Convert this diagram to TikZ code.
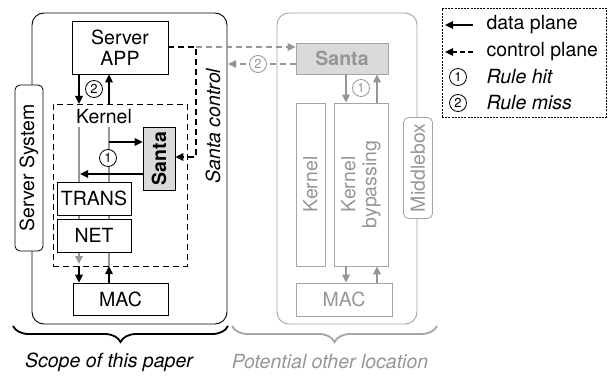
\documentclass[tikz,border=0pt]{standalone}
\usepackage{fontspec}
\setmainfont{TeX Gyre Heros}
\usetikzlibrary{arrows.meta,decorations.pathreplacing}
\definecolor{lg}{RGB}{150,150,150}
\definecolor{lgb}{RGB}{165,165,165}
\definecolor{sfill}{RGB}{218,218,218}
\begin{document}
\begin{tikzpicture}[x=1pt,y=-1pt,
  every node/.style={font=\fontsize{19.5}{21}\selectfont},
  box/.style={draw, line width=0.8pt, fill=white, inner sep=0pt, align=center},
  gbox/.style={box, draw=lgb, text=lg},
  outer/.style={draw, line width=0.9pt, rounded corners=12pt},
  tag/.style={box, rounded corners=5pt},
  circ/.style={draw, circle, fill=white, inner sep=0pt, minimum size=17pt, line width=0.8pt, font=\fontsize{13}{13}\selectfont},
  darr/.style={line width=1.6pt, -{Triangle[length=8pt,width=7.5pt]}},
  carr/.style={line width=1.6pt, dash pattern=on 6pt off 4pt, -{Triangle[length=8pt,width=7.5pt]}},
  gline/.style={line width=1.4pt, lg},
  brc/.style={line width=1.8pt, decorate, decoration={brace, mirror, amplitude=16pt}},
]
\useasboundingbox (0,0) rectangle (612,377);

% ---------------- left: server system ----------------
\node[outer, minimum width=195pt, minimum height=311pt] (sys) at (129.5,168.5) {};
\node[tag, rotate=90, minimum width=166pt, minimum height=28pt] (syslabel) at (29,168) {Server System};
\node[box, minimum width=96pt, minimum height=53pt] (app) at (120,47.5) {Server\\APP};
\node[draw, line width=0.9pt, dash pattern=on 6pt off 4pt, minimum width=134pt, minimum height=162pt] (kern) at (120,185) {};
\node (kernlabel) at (104,117) {Kernel};

\coordinate (g1t) at (79,127);
\coordinate (g1b) at (79,264);
\coordinate (g2t) at (109,127);
\coordinate (g2b) at (109,266);
\draw[gline, -{Triangle[length=8pt,width=7.5pt]}] (g1t) -- (g1b);
\draw[gline] (g2t) -- (g2b);

\node[box, minimum width=74pt, minimum height=33pt] (trans) at (94,198.5) {TRANS};
\node[box, minimum width=74pt, minimum height=33pt] (net) at (94,235.5) {NET};
\node[box, minimum width=95pt, minimum height=32pt] (mac) at (120.5,299) {MAC};
\node[box, fill=sfill, rotate=90, minimum width=63pt, minimum height=32pt, font=\fontsize{19.5}{21}\selectfont\bfseries] (santa) at (159,158.5) {Santa};

% APP <-> kernel
\coordinate (k1) at (79,104);
\coordinate (k2) at (109,104);
\draw[darr] (app.south -| k1) -- (k1);
\draw[darr] (k2) -- (app.south -| k2);
\node[circ] (c2a) at (94,89) {2};

% kernel <-> santa
\coordinate (s1) at (109,142);
\coordinate (s2) at (80,174);
\draw[darr] (s1) -- (santa.north |- s1);
\draw[darr] (santa.north |- s2) -- (s2);
\node[circ] (c1a) at (108,158) {1};

% kernel <-> MAC
\coordinate (m1) at (79,266);
\coordinate (m2) at (109,266);
\draw[darr] (m1) -- (mac.north -| m1);
\draw[darr] (mac.north -| m2) -- (m2);

% Santa control
\coordinate (sc1) at (196,47);
\coordinate (sc2) at (196,157);
\draw[carr] (app.east |- sc1) -- (sc1) -- (sc2) -- (santa.south |- sc2);
\node[rotate=90, font=\fontsize{19.5}{21}\selectfont\itshape] (sctext) at (213,126) {Santa control};

% ---------------- right: middlebox ----------------
\node[outer, draw=lgb, minimum width=140pt, minimum height=311pt] (mid) at (347,168.5) {};
\node[tag, draw=lgb, text=lg, rotate=90, minimum width=101pt, minimum height=29pt] (midlabel) at (418,168) {Middlebox};
\node[gbox, fill=sfill, minimum width=92pt, minimum height=31pt, font=\fontsize{19.5}{21}\selectfont\bfseries] (rsanta) at (342,58.5) {Santa};
\node[gbox, rotate=90, minimum width=163pt, minimum height=29pt] (rkern) at (310.5,184.5) {Kernel};
\node[gbox, rotate=90, minimum width=163pt, minimum height=54pt] (rbyp) at (361,184.5) {Kernel\\bypassing};
\node[gbox, minimum width=96pt, minimum height=33pt] (rmac) at (344,299.5) {MAC};

\coordinate (r1) at (346,0);
\coordinate (r2) at (377,0);
\draw[darr, lg] (rsanta.south -| r1) -- (rbyp.east -| r1);
\draw[darr, lg] (rbyp.east -| r2) -- (rsanta.south -| r2);
\node[circ, draw=lg, text=lg] (c1b) at (361,88) {1};
\draw[darr, lg] (rbyp.west -| r1) -- (rmac.north -| r1);
\draw[darr, lg] (rmac.north -| r2) -- (rbyp.west -| r2);

% gray control links
\coordinate (gc) at (228,64);
\draw[carr, lg] (sc1) -- (rsanta.west |- sc1);
\draw[carr, lg] (rsanta.west |- gc) -- (gc);
\node[circ, draw=lg, text=lg] (c2b) at (258,64) {2};

% ---------------- legend ----------------
\node[draw, line width=0.8pt, dash pattern=on 2pt off 1.2pt, minimum width=164pt, minimum height=109pt] (legend) at (524,62.5) {};
\coordinate (la1) at (473,25);
\coordinate (la2) at (445,25);
\coordinate (lb1) at (473,52);
\coordinate (lb2) at (445,52);
\draw[darr] (la1) -- (la2);
\draw[line width=1.6pt, dash pattern=on 5pt off 3pt, -{Triangle[length=8pt,width=7.5pt]}] (lb1) -- (lb2);
\node[anchor=west] (lt1) at (483,25) {data plane};
\node[anchor=west] (lt2) at (483,52) {control plane};
\node[circ] (lc1) at (458,77) {1};
\node[circ] (lc2) at (458,103) {2};
\node[anchor=west, font=\fontsize{19.5}{21}\selectfont\itshape] (lt3) at (483,77) {Rule hit};
\node[anchor=west, font=\fontsize{19.5}{21}\selectfont\itshape] (lt4) at (483,103) {Rule miss};

% ---------------- braces ----------------
\coordinate (b1a) at (13,326);
\coordinate (b1b) at (228,326);
\coordinate (b2a) at (232,326);
\coordinate (b2b) at (437,326);
\draw[brc] (b1a) -- (b1b);
\draw[brc, lgb] (b2a) -- (b2b);
\node[font=\fontsize{19.5}{21}\selectfont\itshape] (scope) at (109,362) {Scope of this paper};
\node[font=\fontsize{19.5}{21}\selectfont\itshape, text=lg] (pot) at (330,362) {Potential other location};
\end{tikzpicture}
\end{document}
